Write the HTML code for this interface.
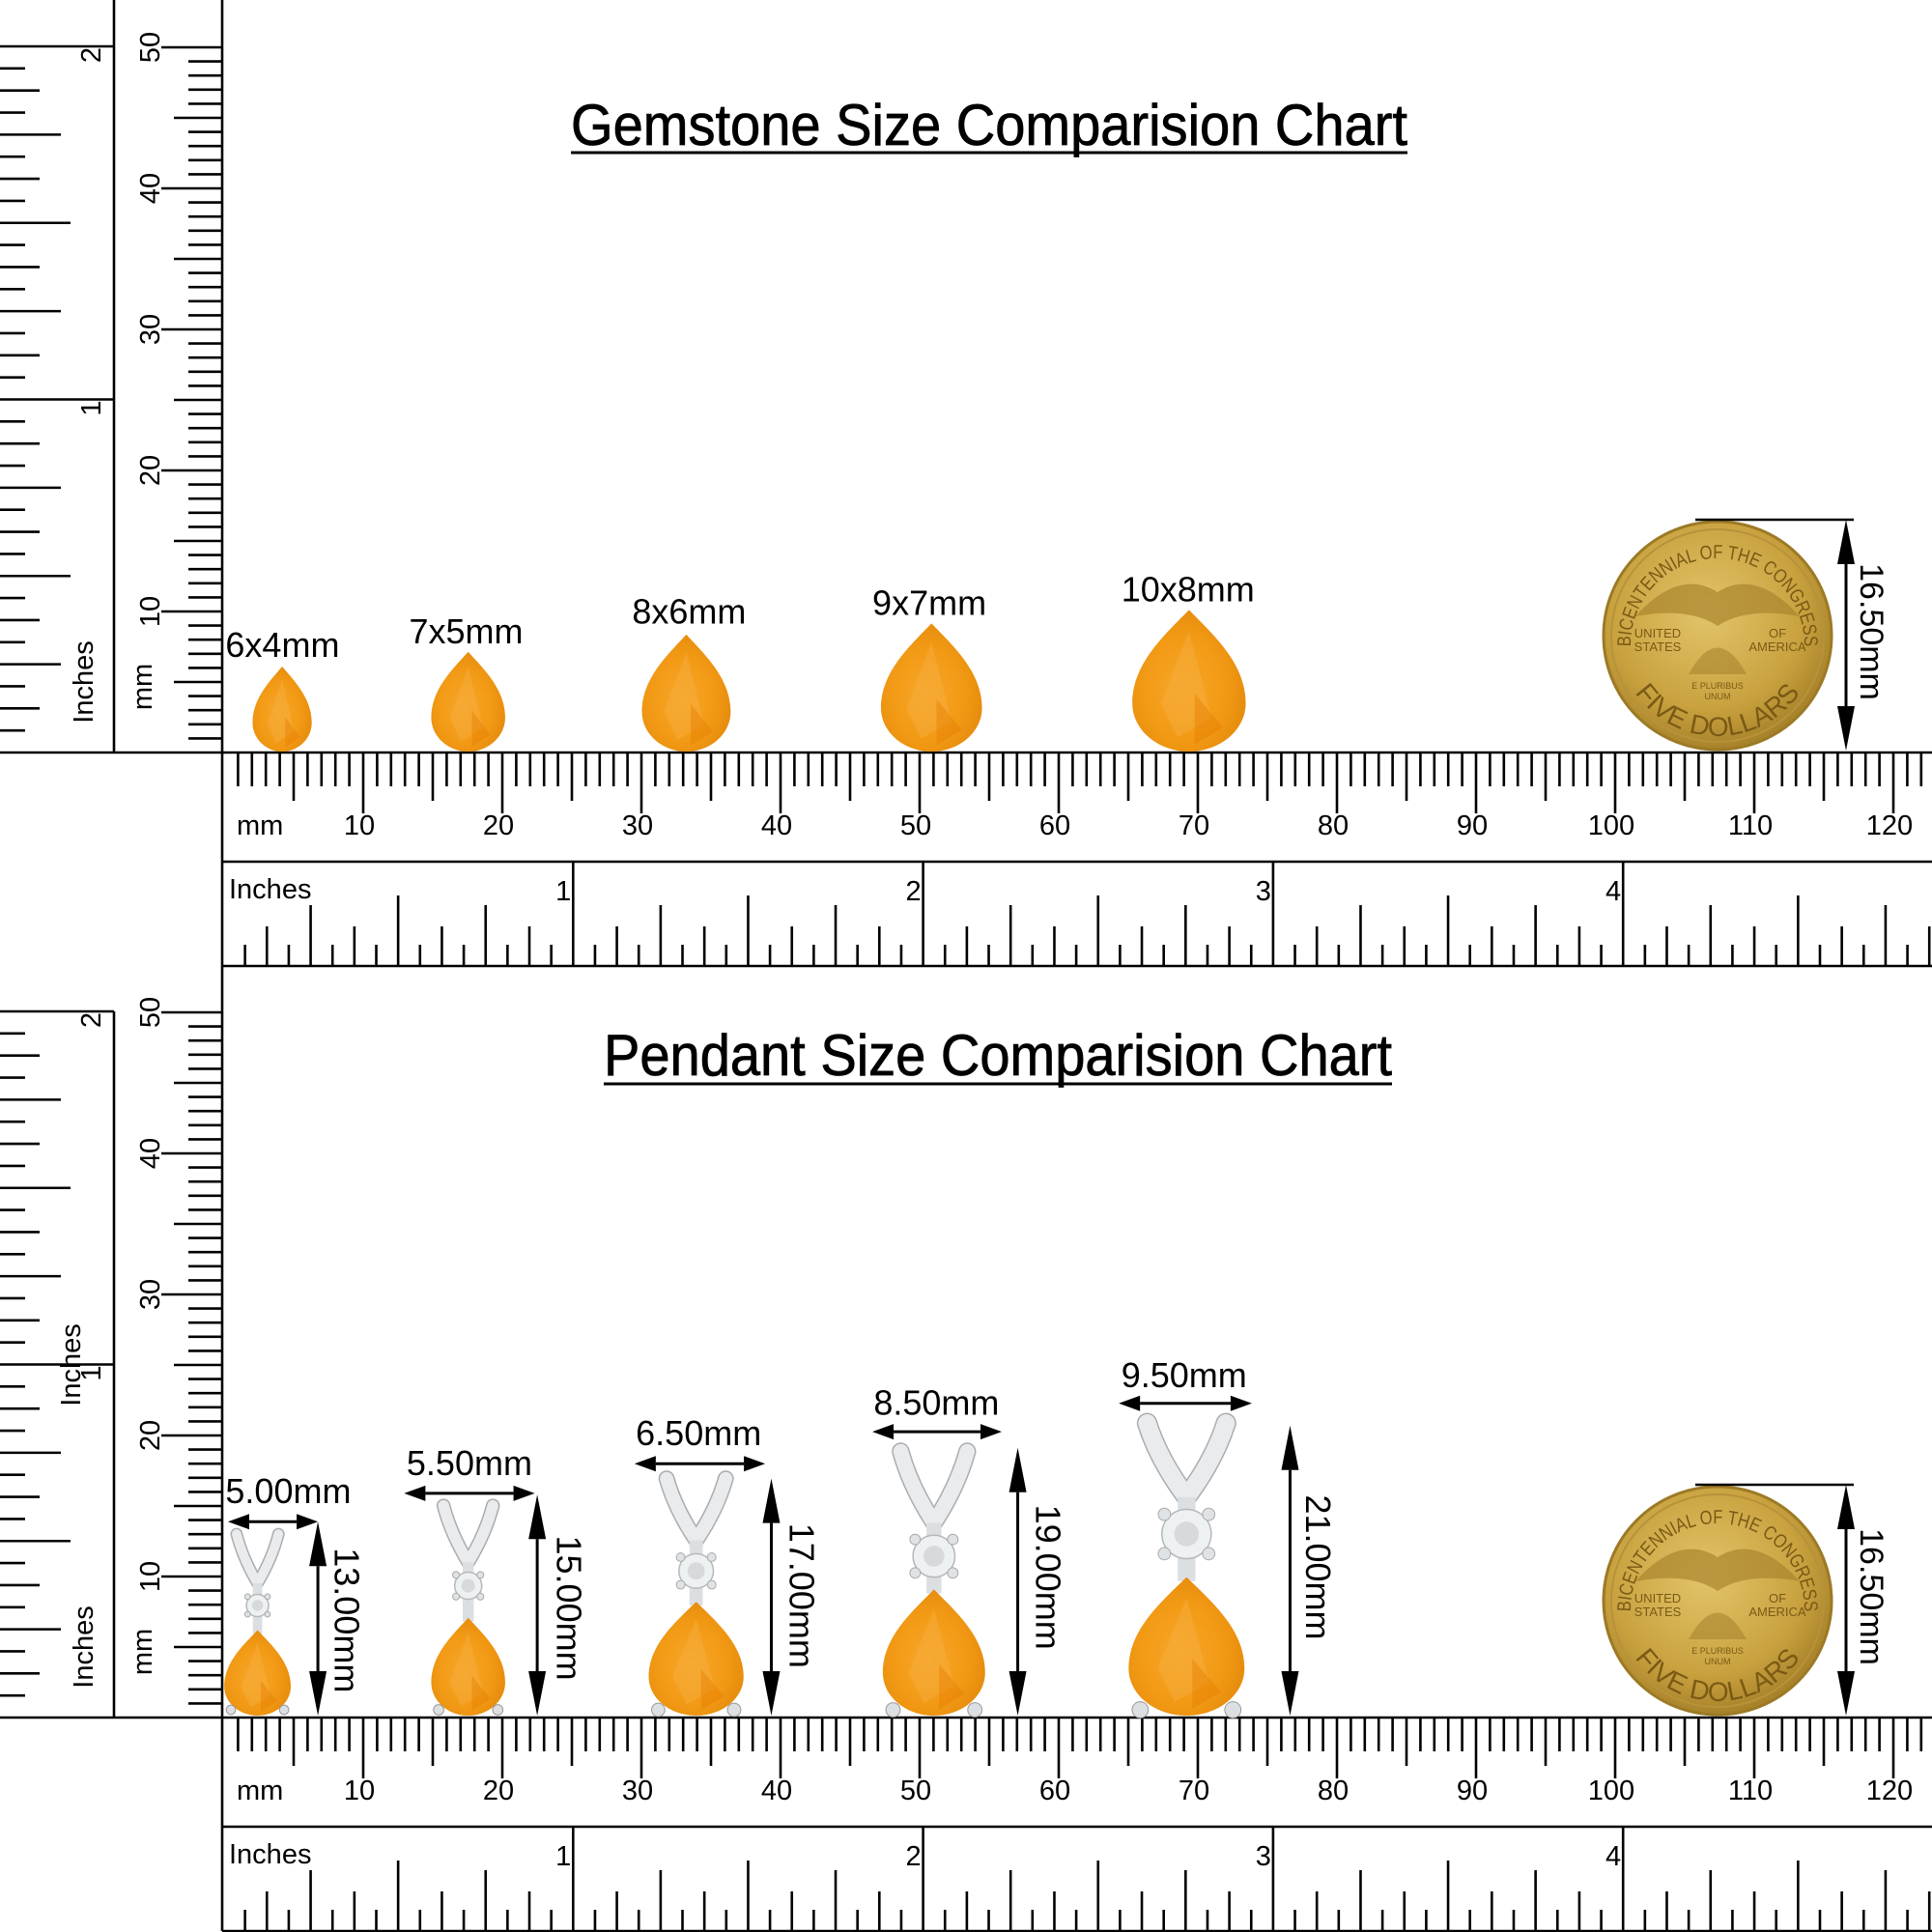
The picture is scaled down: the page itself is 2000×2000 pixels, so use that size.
<!DOCTYPE html>
<html><head><meta charset="utf-8"><style>
html,body{margin:0;padding:0;background:#fff;width:2000px;height:2000px;overflow:hidden}
svg{display:block}
text{font-family:"Liberation Sans",Arial,sans-serif;fill:#000}
</style></head><body>
<svg id="s" xmlns="http://www.w3.org/2000/svg" width="2000" height="2000" viewBox="0 0 2000 2000">
<defs>
<radialGradient id="gem" cx="0.45" cy="0.55" r="0.6">
<stop offset="0" stop-color="#F7A62A"/><stop offset="0.6" stop-color="#F29A15"/><stop offset="1" stop-color="#E58A0C"/>
</radialGradient>
<radialGradient id="gold" cx="0.45" cy="0.4" r="0.6">
<stop offset="0" stop-color="#E3C46A"/><stop offset="0.7" stop-color="#C9A23F"/><stop offset="1" stop-color="#A8822A"/>
</radialGradient>
</defs>
<g id="rul" stroke="#000" stroke-width="2.6" fill="none"></g>
<g id="lab"></g>
<text x="591" y="150" font-size="60" textLength="866" lengthAdjust="spacingAndGlyphs" stroke="#000" stroke-width="0.8">Gemstone Size Comparision Chart</text>
<line x1="591" y1="158" x2="1457" y2="158" stroke="#000" stroke-width="3"/>
<text x="625" y="1113" font-size="60" textLength="816" lengthAdjust="spacingAndGlyphs" stroke="#000" stroke-width="0.8">Pendant Size Comparision Chart</text>
<line x1="625" y1="1122" x2="1441" y2="1122" stroke="#000" stroke-width="3"/>
<g id="art"></g>
</svg>
<script>
const rul=document.getElementById('rul'),lab=document.getElementById('lab'),art=document.getElementById('art');
let R='',L='';
function ln(x1,y1,x2,y2){R+=`<line x1="${x1}" y1="${y1}" x2="${x2}" y2="${y2}"/>`;}
function tx(x,y,t,fs,extra){L+=`<text x="${x}" y="${y}" font-size="${fs}" ${extra||''}>${t}</text>`;}
function rt(x,y,t,fs,anchor,ang){L+=`<text transform="translate(${x},${y}) rotate(${ang||-90})" font-size="${fs}" text-anchor="${anchor}">${t}</text>`;}
function panel(dy,vTop,iTop){
  const B=779+dy;
  ln(118,iTop,118,B);
  ln(0,B,2000,B);
  const ip=365.5;
  for(let i=1;i<=32;i++){
    const y=B-i*ip/16;let len;
    if(i%16==0)len=118;else if(i%8==0)len=73;else if(i%4==0)len=63;else if(i%2==0)len=41;else len=26;
    ln(0,y,len,y);
  }
  rt(104,B-ip+1,'1',29,'end');rt(104,B-2*ip+1,'2',29,'end');
  rt(96,B-73,'Inches',29,'middle');
  rt(157,B-68,'mm',29,'middle');
  ln(230,vTop,230,B);
  for(let k=1;k<=50;k++){
    const y=B-k*14.6;const x=k%10==0?167:(k%5==0?180:195);
    ln(x,y,230,y);
    if(k%10==0)rt(165,y,String(k),29,'middle');
  }
  for(let k=1;k<=122;k++){
    const x=232+k*14.4;const len=k%10==0?63:(k%5==0?50:35);
    ln(x,B,x,B+len);
    if(k%10==0)tx(x-4,B+85,String(k),29,'text-anchor="middle"');
  }
  tx(245,B+85,'mm',29);
  const T=892+dy,Bt=Math.min(1000+dy,1999);
  ln(230,B,230,Bt);ln(230,T,2000,T);ln(230,Bt,2000,Bt);
  const ih=362.3;
  for(let i=1;i<16*5.5;i++){
    const x=231+i*ih/16;if(x>2000)break;let len;
    if(i%16==0){ln(x,T,x,Bt);continue;}
    else if(i%8==0)len=73;else if(i%4==0)len=63;else if(i%2==0)len=41;else len=22;
    ln(x,Bt-len,x,Bt);
  }
  tx(237,T+38,'Inches',29);
  for(let n=1;n<=4;n++)tx(231+n*ih-2,T+40,String(n),29,'text-anchor="end"');
}
panel(0,0,0);panel(999,1000,1047);
rt(83,1413,'Inches',29,'middle');
rul.innerHTML=R;lab.innerHTML=L;

let A='';
function pear(cx,top,bot,w){
  const h=bot-top,hw=w/2,m=top+0.66*h,ry=bot-m;
  return `<path d="M${cx},${top} C${cx+0.22*w},${top+0.18*h} ${cx+hw},${top+0.38*h} ${cx+hw},${m} C${cx+hw},${m+0.55*ry} ${cx+0.55*hw},${bot} ${cx},${bot} C${cx-0.55*hw},${bot} ${cx-hw},${m+0.55*ry} ${cx-hw},${m} C${cx-hw},${top+0.38*h} ${cx-0.22*w},${top+0.18*h} ${cx},${top} Z" fill="url(#gem)"/>
  <path d="M${cx},${top+h*0.15} L${cx-hw*0.5},${m} L${cx-hw*0.2},${bot-h*0.1} L${cx+hw*0.4},${m+ry*0.3} Z" fill="#F7B040" opacity="0.45"/>
  <path d="M${cx+hw*0.1},${m-ry*0.2} L${cx+hw*0.6},${m+ry*0.5} L${cx+hw*0.1},${bot-h*0.05} Z" fill="#E57A00" opacity="0.4"/>`;
}
function hArrow(x1,x2,y){const a=22,b=8;return `<line x1="${x1+a}" y1="${y}" x2="${x2-a}" y2="${y}" stroke="#000" stroke-width="3"/><polygon points="${x1},${y} ${x1+a},${y-b} ${x1+a},${y+b}"/><polygon points="${x2},${y} ${x2-a},${y-b} ${x2-a},${y+b}"/>`;}
function vArrow(x,y1,y2){const a=46,b=9;return `<line x1="${x}" y1="${y1+a}" x2="${x}" y2="${y2-a}" stroke="#000" stroke-width="3"/><polygon points="${x},${y1} ${x-b},${y1+a} ${x+b},${y1+a}"/><polygon points="${x},${y2} ${x-b},${y2-a} ${x+b},${y2-a}"/>`;}
const S=1.27551;
const gems=[[229,541,48,'6x4mm',183,533],[380,529,60,'7x5mm',332,522],[557,515,72,'8x6mm',513,506],[756,506,82,'9x7mm',708,499],[965,495,92,'10x8mm',910,488]];
for(const g of gems){
  A+=pear(g[0]*S,g[1]*S,778,g[2]*S);
  A+=`<text x="${g[4]*S}" y="${g[5]*S}" font-size="36">${g[3]}</text>`;
}
const P=[[209,1245,17,1285,1303,9,1323,54,'5.00mm',183,1220,185,258,1235,258,1235,'13.00mm',282,1315],
[380,1222,20,1268,1287,11,1313,60,'5.50mm',330,1197,328,434,1212,436,1213,'15.00mm',462,1305],
[565,1200,24,1250,1275,14,1300,77,'6.50mm',516,1173,515,621,1188,626,1200,'17.00mm',651,1295],
[758,1178,27,1236,1263,17,1290,83,'8.50mm',709,1148,708,813,1162,826,1175,'19.00mm',851,1280],
[963,1155,32,1215,1245,20,1280,94,'9.50mm',910,1126,908,1016,1139,1047,1157,'21.00mm',1070,1272]];
for(const p of P){
  const cx=p[0]*S,T=p[1]*S,hw=p[2]*S,M=p[3]*S,dy=p[4]*S,dr=p[5]*S,pt=p[6]*S,pw=p[7]*S;
  const sw=Math.max(7,hw*0.45);
  const d=`M${cx-hw},${T} Q${cx-hw*0.7},${(T+M)/2} ${cx},${M} M${cx+hw},${T} Q${cx+hw*0.7},${(T+M)/2} ${cx},${M}`;
  A+=`<path d="${d}" stroke="#a9adb1" stroke-width="${sw+3}" fill="none" stroke-linecap="round"/>`;
  A+=`<path d="${d}" stroke="#e9ebed" stroke-width="${sw}" fill="none" stroke-linecap="round"/>`;
  A+=`<rect x="${cx-sw*0.5}" y="${M}" width="${sw}" height="${pt-M+4}" fill="#dcdfe2"/>`;
  A+=`<circle cx="${cx}" cy="${dy}" r="${dr}" fill="#eef1f2" stroke="#b5b9bc" stroke-width="1.5"/>`;
  A+=`<circle cx="${cx}" cy="${dy}" r="${dr*0.5}" fill="#d6dadc"/>`;
  for(const sx of [-1,1])for(const sy of [-1,1])A+=`<circle cx="${cx+sx*dr*0.9}" cy="${dy+sy*dr*0.8}" r="${dr*0.25}" fill="#e0e3e5" stroke="#aaa" stroke-width="1"/>`;
  A+=pear(cx,pt,1776,pw);
  A+=`<circle cx="${cx-pw*0.4}" cy="1770" r="${pw*0.07}" fill="#dde0e2" stroke="#999" stroke-width="1"/><circle cx="${cx+pw*0.4}" cy="1770" r="${pw*0.07}" fill="#dde0e2" stroke="#999" stroke-width="1"/>`;
  A+=`<text x="${p[9]*S}" y="${p[10]*S}" font-size="36">${p[8]}</text>`;
  A+=hArrow(p[11]*S,p[12]*S,p[13]*S);
  A+=vArrow(p[14]*S,p[15]*S,1776);
  A+=`<text transform="translate(${p[17]*S-13},${p[18]*S}) rotate(90)" font-size="36" text-anchor="middle">${p[16]}</text>`;
}
function coin(cy){
  const cx=1778,r=118;let s='';
  const c='style="fill:#7a5a15"';
  s+=`<circle cx="${cx}" cy="${cy}" r="${r}" fill="url(#gold)" stroke="#9c7a25" stroke-width="3"/>`;
  s+=`<circle cx="${cx}" cy="${cy}" r="${r-8}" fill="none" stroke="#b8923a" stroke-width="2"/>`;
  const r1=r-28;
  s+=`<path id="ca${cy}" d="M${cx-r1},${cy+10} A${r1},${r1} 0 1 1 ${cx+r1},${cy+10}" fill="none"/>`;
  s+=`<text font-size="20" font-family="Liberation Serif" ${c}><textPath href="#ca${cy}" startOffset="50%" text-anchor="middle" textLength="285" lengthAdjust="spacingAndGlyphs">BICENTENNIAL OF THE CONGRESS</textPath></text>`;
  const r2=r-14;
  s+=`<path id="cb${cy}" d="M${cx-r2},${cy} A${r2},${r2} 0 0 0 ${cx+r2},${cy}" fill="none"/>`;
  s+=`<text font-size="28" font-family="Liberation Serif" ${c}><textPath href="#cb${cy}" startOffset="50%" text-anchor="middle">FIVE DOLLARS</textPath></text>`;
  s+=`<path d="M${cx-85},${cy-20} Q${cx-40},${cy-70} ${cx},${cy-45} Q${cx+40},${cy-70} ${cx+85},${cy-20} Q${cx+30},${cy-30} ${cx},${cy-10} Q${cx-30},${cy-30} ${cx-85},${cy-20} Z" fill="#a9842e" opacity="0.7"/>`;
  s+=`<path d="M${cx-30},${cy+40} Q${cx},${cy-15} ${cx+30},${cy+40} Z" fill="#a9842e" opacity="0.6"/>`;
  s+=`<text x="${cx-62}" y="${cy+2}" font-size="13" text-anchor="middle" ${c}>UNITED</text><text x="${cx-62}" y="${cy+16}" font-size="13" text-anchor="middle" ${c}>STATES</text>`;
  s+=`<text x="${cx+62}" y="${cy+2}" font-size="13" text-anchor="middle" ${c}>OF</text><text x="${cx+62}" y="${cy+16}" font-size="13" text-anchor="middle" ${c}>AMERICA</text>`;
  s+=`<text x="${cx}" y="${cy+55}" font-size="9" text-anchor="middle" ${c}>E PLURIBUS</text><text x="${cx}" y="${cy+66}" font-size="9" text-anchor="middle" ${c}>UNUM</text>`;
  const top=cy-r-2;
  s+=`<line x1="1755" y1="${top}" x2="1919" y2="${top}" stroke="#000" stroke-width="2.5"/>`;
  s+=vArrow(1911,top,cy+r+1);
  s+=`<text transform="translate(1926,${cy-4}) rotate(90)" font-size="34" text-anchor="middle">16.50mm</text>`;
  return s;
}
A+=coin(658)+coin(1657);
art.innerHTML=A;
</script>
</body></html>
